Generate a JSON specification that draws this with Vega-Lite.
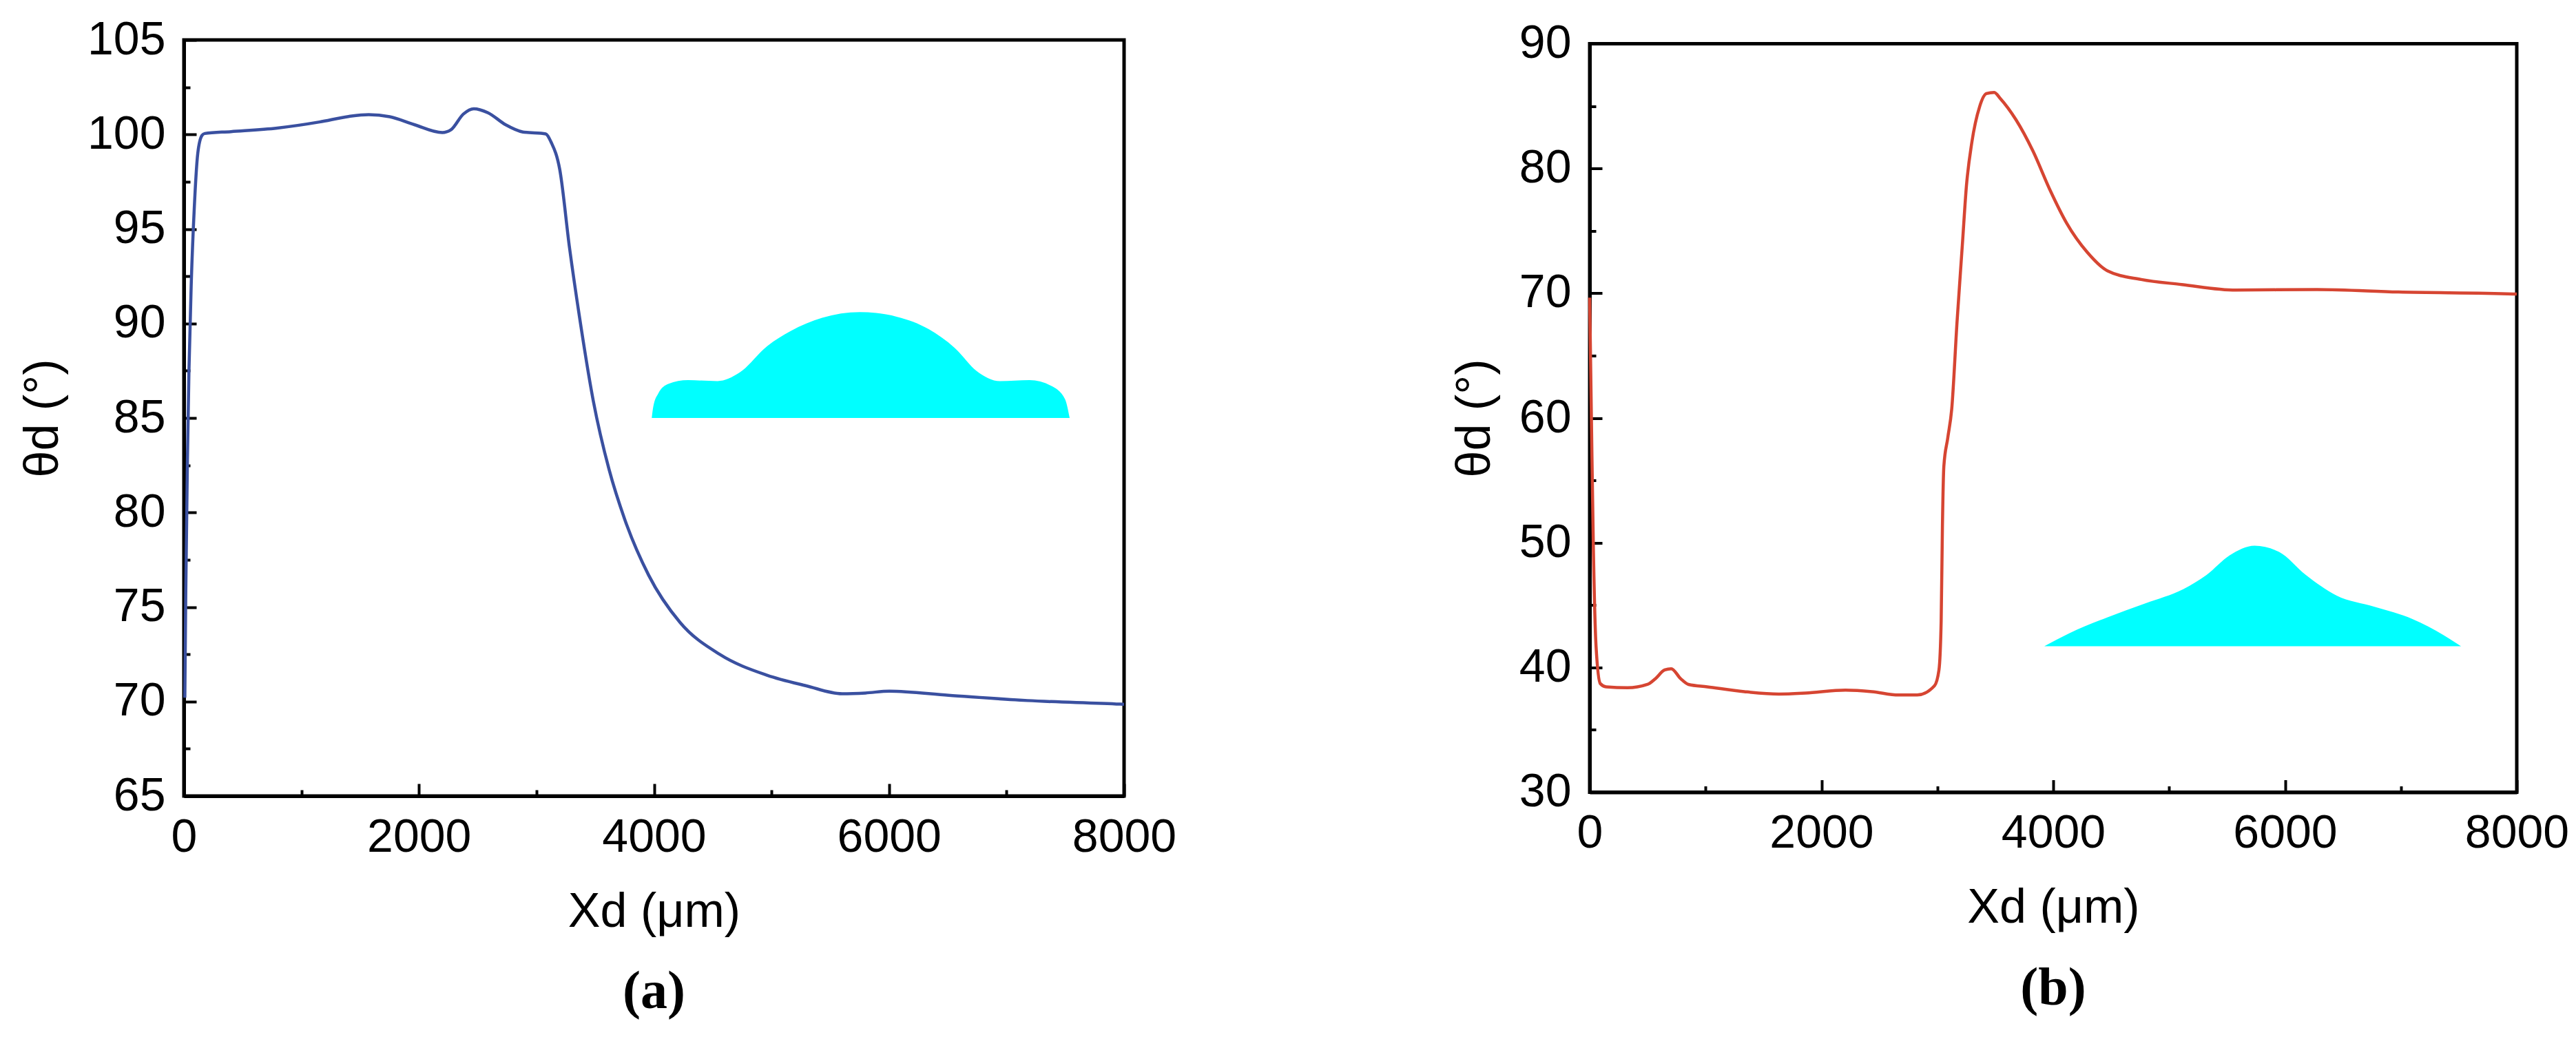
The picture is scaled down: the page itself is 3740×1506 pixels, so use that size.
{
  "$schema": "https://vega.github.io/schema/vega-lite/v6.json",
  "background": "white",
  "padding": {"left": 25, "top": 21, "right": 10, "bottom": 5},
  "datasets": {
    "curveA": [
      {"x": 8, "theta": 70.2}, {"x": 16, "theta": 75.8}, {"x": 30, "theta": 82.8},
      {"x": 43, "theta": 87.5}, {"x": 63, "theta": 92.2}, {"x": 89, "theta": 96.2},
      {"x": 118, "theta": 99.0}, {"x": 154, "theta": 99.95}, {"x": 177, "theta": 100.05},
      {"x": 400, "theta": 100.15}, {"x": 795, "theta": 100.34}, {"x": 1154, "theta": 100.66},
      {"x": 1400, "theta": 100.95}, {"x": 1572, "theta": 101.05}, {"x": 1751, "theta": 100.94},
      {"x": 1960, "theta": 100.52}, {"x": 2199, "theta": 100.1}, {"x": 2273, "theta": 100.25},
      {"x": 2378, "theta": 101.08}, {"x": 2467, "theta": 101.36}, {"x": 2587, "theta": 101.15},
      {"x": 2736, "theta": 100.52}, {"x": 2885, "theta": 100.13}, {"x": 3079, "theta": 100.03},
      {"x": 3124, "theta": 99.6}, {"x": 3198, "theta": 98.15}, {"x": 3282, "theta": 93.97},
      {"x": 3366, "theta": 90.35}, {"x": 3484, "theta": 85.89}, {"x": 3618, "theta": 82.27},
      {"x": 3752, "theta": 79.62}, {"x": 3954, "theta": 76.69}, {"x": 4222, "theta": 74.18},
      {"x": 4558, "theta": 72.5}, {"x": 4962, "theta": 71.39}, {"x": 5296, "theta": 70.83},
      {"x": 5600, "theta": 70.41}, {"x": 5800, "theta": 70.45}, {"x": 6003, "theta": 70.55},
      {"x": 6507, "theta": 70.33}, {"x": 7178, "theta": 70.05}, {"x": 7968, "theta": 69.86},
      {"x": 8000, "theta": 69.85}
    ],
    "dropA": [
      {"x": 3981, "theta": 85.0}, {"x": 3994, "theta": 85.6}, {"x": 4037, "theta": 86.3},
      {"x": 4122, "theta": 86.8}, {"x": 4290, "theta": 87.0}, {"x": 4541, "theta": 86.95},
      {"x": 4728, "theta": 87.4}, {"x": 4963, "theta": 88.8}, {"x": 5163, "theta": 89.6},
      {"x": 5431, "theta": 90.3}, {"x": 5752, "theta": 90.6}, {"x": 6070, "theta": 90.35},
      {"x": 6338, "theta": 89.7}, {"x": 6560, "theta": 88.7}, {"x": 6743, "theta": 87.5},
      {"x": 6944, "theta": 86.95}, {"x": 7196, "theta": 87.0}, {"x": 7379, "theta": 86.7},
      {"x": 7497, "theta": 86.0}, {"x": 7537, "theta": 85.0}
    ],
    "curveB": [
      {"x": 0, "theta": 69.65}, {"x": 16, "theta": 59.2}, {"x": 32, "theta": 49.5},
      {"x": 55, "theta": 41.7}, {"x": 92, "theta": 38.7}, {"x": 142, "theta": 38.45},
      {"x": 326, "theta": 38.37}, {"x": 498, "theta": 38.64}, {"x": 567, "theta": 39.1},
      {"x": 647, "theta": 39.8}, {"x": 704, "theta": 39.9}, {"x": 785, "theta": 39.1},
      {"x": 853, "theta": 38.64}, {"x": 1014, "theta": 38.45}, {"x": 1335, "theta": 38.06},
      {"x": 1633, "theta": 37.87}, {"x": 1863, "theta": 37.95}, {"x": 2207, "theta": 38.18},
      {"x": 2436, "theta": 38.06}, {"x": 2666, "theta": 37.79}, {"x": 2826, "theta": 37.79},
      {"x": 2975, "theta": 38.53}, {"x": 3014, "theta": 39.8}, {"x": 3033, "theta": 43.7},
      {"x": 3044, "theta": 51.4}, {"x": 3056, "theta": 56.1}, {"x": 3090, "theta": 58.4},
      {"x": 3124, "theta": 60.7}, {"x": 3170, "theta": 67.7}, {"x": 3216, "theta": 73.9},
      {"x": 3251, "theta": 78.6}, {"x": 3297, "theta": 82.05}, {"x": 3365, "theta": 84.96},
      {"x": 3423, "theta": 86.0}, {"x": 3491, "theta": 86.1}, {"x": 3544, "theta": 85.6},
      {"x": 3679, "theta": 83.9}, {"x": 3825, "theta": 81.4}, {"x": 3971, "theta": 78.3},
      {"x": 4117, "theta": 75.6}, {"x": 4292, "theta": 73.3}, {"x": 4467, "theta": 71.8},
      {"x": 4759, "theta": 71.1}, {"x": 5109, "theta": 70.7}, {"x": 5576, "theta": 70.25},
      {"x": 6277, "theta": 70.3}, {"x": 6978, "theta": 70.1}, {"x": 7970, "theta": 69.94},
      {"x": 8000, "theta": 69.93}
    ],
    "dropB": [
      {"x": 3923, "theta": 41.7}, {"x": 4135, "theta": 42.73}, {"x": 4465, "theta": 44.01},
      {"x": 4795, "theta": 45.14}, {"x": 5124, "theta": 46.28}, {"x": 5323, "theta": 47.41},
      {"x": 5520, "theta": 48.97}, {"x": 5738, "theta": 49.76}, {"x": 5949, "theta": 49.26},
      {"x": 6180, "theta": 47.41}, {"x": 6443, "theta": 45.77}, {"x": 6773, "theta": 44.86},
      {"x": 7103, "theta": 43.87}, {"x": 7367, "theta": 42.6}, {"x": 7519, "theta": 41.7}
    ]
  },
  "hconcat": [
    {
      "width": 1365,
      "height": 1098,
      "title": {"text": "(a)", "orient": "bottom", "offset": 43},
      "layer": [
        {
          "data": {"name": "dropA"},
          "mark": {"type": "area", "color": "#00ffff", "opacity": 1, "interpolate": "monotone"},
          "encoding": {
            "x": {
              "field": "x", "type": "quantitative",
              "scale": {"domain": [0, 8000], "nice": false, "zero": false},
              "axis": {"orient": "bottom", "values": [1000, 3000, 5000, 7000], "labels": false, "domain": false, "tickSize": -9, "title": null}
            },
            "y": {
              "field": "theta", "type": "quantitative",
              "scale": {"domain": [65, 105], "nice": false, "zero": false},
              "axis": {"orient": "left", "values": [67.5, 72.5, 77.5, 82.5, 87.5, 92.5, 97.5, 102.5], "labels": false, "domain": false, "tickSize": -9, "title": null}
            },
            "y2": {"datum": 85}
          }
        },
        {
          "data": {"name": "curveA"},
          "mark": {"type": "line", "color": "#3a50a0", "strokeWidth": 4.5, "interpolate": "monotone"},
          "encoding": {
            "x": {
              "field": "x", "type": "quantitative",
              "scale": {"domain": [0, 8000], "nice": false, "zero": false},
              "axis": {"orient": "bottom", "values": [0, 2000, 4000, 6000, 8000], "format": "d", "tickSize": -18, "labelPadding": 44, "title": "Xd (μm)", "titlePadding": 40}
            },
            "y": {
              "field": "theta", "type": "quantitative",
              "scale": {"domain": [65, 105], "nice": false, "zero": false},
              "axis": {"orient": "left", "values": [65, 70, 75, 80, 85, 90, 95, 100, 105], "format": "d", "tickSize": -18, "labelPadding": 45, "title": "θd (°)", "titlePadding": 28}
            }
          }
        }
      ],
      "resolve": {"axis": {"x": "independent", "y": "independent"}}
    },
    {
      "width": 1346,
      "height": 1087,
      "title": {"text": "(b)", "orient": "bottom", "offset": 43},
      "layer": [
        {
          "data": {"name": "dropB"},
          "mark": {"type": "area", "color": "#00ffff", "opacity": 1, "interpolate": "monotone"},
          "encoding": {
            "x": {
              "field": "x", "type": "quantitative",
              "scale": {"domain": [0, 8000], "nice": false, "zero": false},
              "axis": {"orient": "bottom", "values": [1000, 3000, 5000, 7000], "labels": false, "domain": false, "tickSize": -9, "title": null}
            },
            "y": {
              "field": "theta", "type": "quantitative",
              "scale": {"domain": [30, 90], "nice": false, "zero": false},
              "axis": {"orient": "left", "values": [35, 45, 55, 65, 75, 85], "labels": false, "domain": false, "tickSize": -9, "title": null}
            },
            "y2": {"datum": 41.7}
          }
        },
        {
          "data": {"name": "curveB"},
          "mark": {"type": "line", "color": "#d64532", "strokeWidth": 4.5, "interpolate": "monotone"},
          "encoding": {
            "x": {
              "field": "x", "type": "quantitative",
              "scale": {"domain": [0, 8000], "nice": false, "zero": false},
              "axis": {"orient": "bottom", "values": [0, 2000, 4000, 6000, 8000], "format": "d", "tickSize": -18, "labelPadding": 44, "title": "Xd (μm)", "titlePadding": 40}
            },
            "y": {
              "field": "theta", "type": "quantitative",
              "scale": {"domain": [30, 90], "nice": false, "zero": false},
              "axis": {"orient": "left", "values": [30, 40, 50, 60, 70, 80, 90], "format": "d", "tickSize": -18, "labelPadding": 45, "title": "θd (°)", "titlePadding": 28}
            }
          }
        }
      ],
      "resolve": {"axis": {"x": "independent", "y": "independent"}}
    }
  ],
  "spacing": 676,
  "bounds": "flush",
  "center": true,
  "config": {
    "view": {"stroke": "black", "strokeWidth": 5},
    "axis": {
      "grid": false,
      "domainColor": "black",
      "domainWidth": 5,
      "tickColor": "black",
      "tickWidth": 4,
      "labelFont": "Liberation Sans",
      "labelFontSize": 68,
      "labelColor": "black",
      "labelFlush": false,
      "labelOverlap": false,
      "titleFont": "Liberation Sans",
      "titleFontSize": 70,
      "titleFontWeight": "normal",
      "titleColor": "black"
    },
    "title": {
      "font": "Liberation Serif",
      "fontSize": 78,
      "fontWeight": "bold",
      "color": "black"
    }
  }
}
